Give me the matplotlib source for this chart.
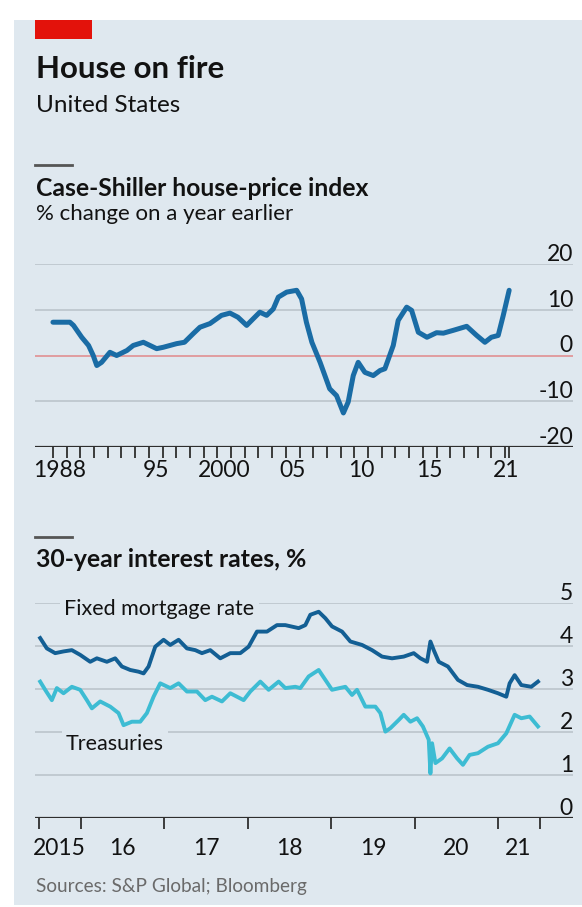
import matplotlib
matplotlib.use("Agg")
import matplotlib.pyplot as plt
from matplotlib import font_manager
from matplotlib.transforms import blended_transform_factory
from matplotlib.patches import Rectangle

# Case-Shiller national house-price index, % change on a year earlier
cs_year = [1988.0, 1989.24, 1989.5, 1990.1, 1990.6, 1990.94, 1991.2, 1991.55, 1992.16, 1992.65,
           1993.4, 1993.86, 1994.6, 1995.57, 1996.05, 1997.03, 1997.6, 1998.24, 1998.73, 1999.46,
           2000.3, 2000.92, 2001.5, 2002.14, 2002.6, 2003.1, 2003.6, 2004.08, 2004.45, 2005.06,
           2005.79, 2006.15, 2006.5, 2006.9, 2007.5, 2008.2, 2008.7, 2009.2, 2009.55, 2009.92,
           2010.28, 2010.77, 2011.38, 2011.87, 2012.23, 2012.84, 2013.2, 2013.82, 2014.18, 2014.67,
           2015.3, 2016.0, 2016.5, 2017.2, 2018.2, 2018.93, 2019.53, 2020.0, 2020.5, 2020.87, 2021.3]
cs_val = [7.3, 7.3, 6.6, 4.0, 2.2, 0.0, -2.2, -1.5, 0.7, 0.0,
          1.1, 2.2, 2.9, 1.5, 1.8, 2.6, 2.9, 4.8, 6.2, 7.0,
          8.8, 9.3, 8.4, 6.6, 8.0, 9.5, 8.8, 10.2, 12.8, 13.9,
          14.3, 12.4, 7.3, 2.9, -1.5, -7.3, -8.8, -12.6, -10.2, -4.4,
          -1.5, -3.7, -4.4, -3.3, -2.9, 2.2, 7.7, 10.6, 9.9, 5.1,
          4.0, 5.0, 4.9, 5.5, 6.4, 4.4, 2.9, 4.0, 4.4, 8.8, 14.3]

# 30-year fixed mortgage rate, %
mort_year = [2015.51, 2015.59, 2015.69, 2015.79, 2015.89, 2015.99, 2016.11, 2016.19, 2016.31, 2016.41,
             2016.49, 2016.59, 2016.69, 2016.75, 2016.81, 2016.89, 2016.99, 2017.07, 2017.17, 2017.27,
             2017.37, 2017.45, 2017.55, 2017.67, 2017.79, 2017.91, 2018.01, 2018.11, 2018.23, 2018.35,
             2018.45, 2018.61, 2018.69, 2018.75, 2018.85, 2018.93, 2019.01, 2019.13, 2019.23, 2019.37,
             2019.49, 2019.61, 2019.73, 2019.87, 2019.99, 2020.07, 2020.15, 2020.19, 2020.23, 2020.29,
             2020.4, 2020.52, 2020.63, 2020.76, 2020.88, 2021.0, 2021.1, 2021.14, 2021.2, 2021.28,
             2021.4, 2021.48]
mort_val = [4.18, 3.94, 3.83, 3.87, 3.9, 3.79, 3.63, 3.71, 3.63, 3.71,
            3.52, 3.44, 3.4, 3.36, 3.52, 3.98, 4.14, 4.02, 4.14, 3.94,
            3.9, 3.83, 3.9, 3.71, 3.83, 3.83, 3.98, 4.33, 4.33, 4.48,
            4.48, 4.41, 4.48, 4.72, 4.79, 4.64, 4.45, 4.33, 4.1, 4.02,
            3.9, 3.75, 3.71, 3.75, 3.83, 3.71, 3.63, 4.1, 3.9, 3.63,
            3.52, 3.21, 3.09, 3.05, 2.98, 2.9, 2.82, 3.13, 3.32, 3.09,
            3.05, 3.17]

# 30-year Treasury yield, %
treas_year = [2015.51, 2015.57, 2015.65, 2015.71, 2015.79, 2015.89, 2015.99, 2016.07, 2016.13, 2016.23,
              2016.35, 2016.45, 2016.51, 2016.61, 2016.71, 2016.79, 2016.87, 2016.95, 2017.07, 2017.17,
              2017.27, 2017.39, 2017.49, 2017.57, 2017.69, 2017.79, 2017.95, 2018.03, 2018.15, 2018.25,
              2018.37, 2018.45, 2018.57, 2018.63, 2018.73, 2018.85, 2018.93, 2019.01, 2019.17, 2019.25,
              2019.31, 2019.41, 2019.53, 2019.59, 2019.65, 2019.71, 2019.81, 2019.87, 2019.95, 2020.03,
              2020.1, 2020.17, 2020.19, 2020.21, 2020.25, 2020.33, 2020.42, 2020.51, 2020.58, 2020.66,
              2020.76, 2020.88, 2021.0, 2021.1, 2021.2, 2021.28, 2021.38, 2021.48]
treas_val = [3.17, 2.98, 2.74, 3.02, 2.9, 3.05, 2.98, 2.74, 2.55, 2.71,
             2.59, 2.44, 2.16, 2.24, 2.24, 2.44, 2.82, 3.13, 3.02, 3.13,
             2.94, 2.94, 2.74, 2.82, 2.71, 2.9, 2.74, 2.94, 3.17, 2.98,
             3.17, 3.02, 3.05, 3.02, 3.29, 3.44, 3.21, 2.98, 3.05, 2.86,
             2.98, 2.59, 2.59, 2.44, 2.01, 2.09, 2.28, 2.4, 2.24, 2.32,
             2.13, 1.82, 1.04, 1.74, 1.28, 1.39, 1.62, 1.39, 1.24, 1.47,
             1.51, 1.66, 1.74, 1.97, 2.4, 2.32, 2.36, 2.13]

# axis labels
top_ticks = [-20, -10, 0, 10, 20]
top_xlabels = ["1988", "95", "2000", "05", "10", "15", "21"]
top_xlabel_pos = [1988.5, 1995.5, 2000.5, 2005.5, 2010.5, 2015.5, 2021.1]
bot_ticks = [0, 1, 2, 3, 4, 5]
bot_xlabels = ["2015", "16", "17", "18", "19", "20", "21"]
bot_xlabel_pos = [2015.74, 2016.5, 2017.5, 2018.5, 2019.5, 2020.5, 2021.24]

BG = "#dfe8ef"
GRID = "#b9c1c8"
AXIS = "#2e2e2e"
TEXT = "#121212"

installed = {f.name for f in font_manager.fontManager.ttflist}
SANS = "Lato" if "Lato" in installed else "DejaVu Sans"
NUM = "Liberation Sans Narrow" if "Liberation Sans Narrow" in installed else SANS
plt.rcParams["font.family"] = [SANS, "DejaVu Sans"]

W, H = 582, 907
fig = plt.figure(figsize=(W / 100, H / 100), dpi=100, facecolor="white")


def fx(px):
    return px / W


def fy(px):
    return 1 - px / H


# panel background and red tag (kept behind the axes)
fig.patches.append(Rectangle((fx(14), fy(905)), 1 - fx(14), fy(20) - fy(905),
                             transform=fig.transFigure, facecolor=BG, edgecolor="none", zorder=-5))
fig.patches.append(Rectangle((fx(35), fy(39)), fx(92) - fx(35), fy(20) - fy(39),
                             transform=fig.transFigure, facecolor="#e3120b", edgecolor="none", zorder=-4))

fig.text(fx(36), fy(77.5), "House on fire", fontsize=22.5, fontweight="bold", color=TEXT, va="baseline")
fig.text(fx(36), fy(112.3), "United States", fontsize=17.5, color=TEXT, va="baseline")

# short grey markers above each panel title
for ypx in (165, 537):
    fig.add_artist(plt.Line2D([fx(35), fx(72)], [fy(ypx), fy(ypx)], color="#555555", lw=2,
                              transform=fig.transFigure))

fig.text(fx(36), fy(196), "Case-Shiller house-price index", fontsize=17.8, fontweight="bold",
         color=TEXT, va="baseline")
fig.text(fx(36), fy(220), "% change on a year earlier", fontsize=16, color=TEXT, va="baseline")
fig.text(fx(36), fy(566.7), "30-year interest rates, %", fontsize=17.8, fontweight="bold",
         color=TEXT, va="baseline")
fig.text(fx(36), fy(891.7), "Sources: S&P Global; Bloomberg", fontsize=13.7, color="#6a6a6a",
         va="baseline")


def setup_axes(ax, yticks, xlabels, xlabel_pos, label_base):
    ax.set_facecolor("none")
    for s in ax.spines.values():
        s.set_visible(False)
    ax.set_yticks([])
    ax.tick_params(axis="x", which="major", length=8, width=1.3, color=AXIS, labelbottom=False)
    trans = blended_transform_factory(ax.transAxes, ax.transData)
    for v in yticks[1:]:
        ax.axhline(v, color=GRID, lw=1.1, zorder=1)
    ax.axhline(yticks[0], color=AXIS, lw=1.6, zorder=3)
    for v in yticks:
        ax.annotate(str(v), (1.0, v), xycoords=trans, xytext=(0, 2.2), textcoords="offset points",
                    ha="right", va="baseline", fontsize=16.5, family=NUM, color=TEXT)
    xtrans = blended_transform_factory(ax.transData, fig.transFigure)
    for lab, pos in zip(xlabels, xlabel_pos):
        ax.text(pos, fy(label_base), lab, transform=xtrans, ha="center", va="baseline",
                fontsize=16.5, family=NUM, color=TEXT)


# top panel: house prices
ax1 = fig.add_axes([fx(35), fy(446.7), fx(573) - fx(35), fy(264.3) - fy(446.7)])
ax1.set_xlim(1986.69, 2025.96)
ax1.set_ylim(-20, 20)
setup_axes(ax1, top_ticks, top_xlabels, top_xlabel_pos, 476.7)
ax1.axhline(0, color="#e49a9c", lw=1.3, zorder=2)
ax1.set_xticks(list(range(1988, 2022)) + [2021.3])
ax1.plot(cs_year, cs_val, color="#1a6ca5", lw=3.6, solid_joinstyle="round",
         solid_capstyle="round", zorder=4)

# bottom panel: interest rates
ax2 = fig.add_axes([fx(35), fy(818.3), fx(573) - fx(35), fy(602.7) - fy(818.3)])
ax2.set_xlim(2015.448, 2021.90)
ax2.set_ylim(0, 5)
setup_axes(ax2, bot_ticks, bot_xlabels, bot_xlabel_pos, 855)
ax2.set_xticks([2015.5] + list(range(2016, 2022)) + [2021.5])
ax2.plot(treas_year, treas_val, color="#3dbcd3", lw=2.8, solid_joinstyle="round", zorder=4)
ax2.plot(mort_year, mort_val, color="#135f94", lw=2.8, solid_joinstyle="round", zorder=5)

box = dict(facecolor=BG, edgecolor="none", pad=3)
ax2.text(2015.80, 4.72, "Fixed mortgage rate", fontsize=15.5, color=TEXT, va="baseline", bbox=box, zorder=6)
ax2.text(2015.82, 1.58, "Treasuries", fontsize=15.5, color=TEXT, va="baseline", bbox=box, zorder=6)

fig.savefig("out.png", dpi=100, facecolor="white")
